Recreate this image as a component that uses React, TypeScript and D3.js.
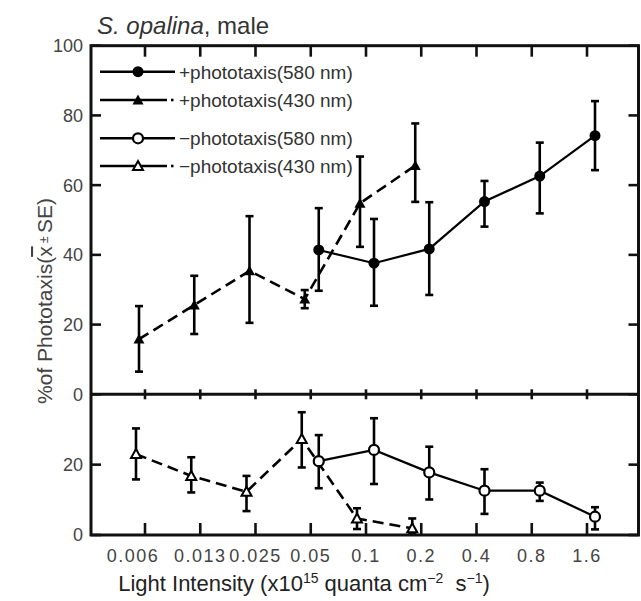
import React from "react";
import * as d3 from "d3";

const categories = ["0.006", "0.013", "0.025", "0.05", "0.1", "0.2", "0.4", "0.8", "1.6"];
const topTicks = [0, 20, 40, 60, 80, 100];
const bottomTicks = [0, 20];

// + phototaxis 580 nm (filled circles, solid)
const pos580Cats = ["0.05", "0.1", "0.2", "0.4", "0.8", "1.6"];
const pos580Mean = [41.4, 37.6, 41.7, 55.3, 62.6, 74.2];
const pos580Upper = [53.4, 50.3, 55.1, 61.2, 72.2, 84.1];
const pos580Lower = [29.7, 25.4, 28.5, 48.1, 51.9, 64.3];

// + phototaxis 430 nm (filled triangles, dashed)
const pos430Cats = ["0.006", "0.013", "0.025", "0.05", "0.1", "0.2"];
const pos430Mean = [15.8, 25.6, 35.4, 27.3, 54.8, 65.6];
const pos430Upper = [25.3, 34.0, 51.1, 29.9, 68.2, 77.7];
const pos430Lower = [6.5, 17.3, 20.5, 24.7, 42.3, 55.2];

// - phototaxis 580 nm (open circles, solid)
const neg580Cats = ["0.05", "0.1", "0.2", "0.4", "0.8", "1.6"];
const neg580Mean = [21.0, 24.2, 17.8, 12.6, 12.6, 5.2];
const neg580Upper = [28.4, 33.2, 25.1, 18.7, 14.9, 7.9];
const neg580Lower = [13.3, 14.5, 10.1, 6.0, 9.7, 1.6];

// - phototaxis 430 nm (open triangles, dashed)
const neg430Cats = ["0.006", "0.013", "0.025", "0.05", "0.1", "0.2"];
const neg430Mean = [23.0, 16.8, 12.3, 27.3, 4.7, 1.9];
const neg430Upper = [30.3, 22.1, 16.8, 34.9, 7.6, 4.7];
const neg430Lower = [15.8, 12.1, 6.8, 19.2, 1.7, 0.5];

const legendLabels = [
  "+phototaxis(580 nm)",
  "+phototaxis(430 nm)",
  "\u2212phototaxis(580 nm)",
  "\u2212phototaxis(430 nm)",
];

const FONT = "'Liberation Sans', Arial, Helvetica, sans-serif";
const W = 641;
const H = 601;
const left = 91;
const right = 638.5;
const top = 45.7;
const mid = 394.3;
const bottom = 535;

type Series = {
  cats: string[];
  mean: number[];
  upper: number[];
  lower: number[];
  marker: "circle" | "triangle";
  filled: boolean;
  dashed: boolean;
  dx: number;
};

function Marker({ x, y, kind, filled }: { x: number; y: number; kind: string; filled: boolean }) {
  if (kind === "circle") {
    return filled ? (
      <circle cx={x} cy={y} r={5.5} fill="#000" />
    ) : (
      <circle cx={x} cy={y} r={5} fill="#fff" stroke="#000" strokeWidth={2.2} />
    );
  }
  const s = filled ? 5.5 : 5;
  const path = `M${x},${y - s} L${x + s},${y + s * 0.8} L${x - s},${y + s * 0.8} Z`;
  return filled ? (
    <path d={path} fill="#000" />
  ) : (
    <path d={path} fill="#fff" stroke="#000" strokeWidth={2} strokeLinejoin="miter" />
  );
}

function SeriesG({ s, x, y }: { s: Series; x: d3.ScalePoint<string>; y: d3.ScaleLinear<number, number> }) {
  const pts = s.cats.map((c, i) => ({
    px: (x(c) as number) + s.dx,
    py: y(s.mean[i]),
    hi: y(s.upper[i]),
    lo: y(s.lower[i]),
  }));
  const line = d3
    .line<{ px: number; py: number }>()
    .x((d) => d.px)
    .y((d) => d.py);
  return (
    <g>
      <path
        d={line(pts) || ""}
        fill="none"
        stroke="#000"
        strokeWidth={s.dashed ? 2.6 : 2.2}
        strokeDasharray={s.dashed ? "11,6" : undefined}
      />
      {pts.map((p, i) => (
        <g key={i} stroke="#000" strokeWidth={2.6}>
          <line x1={p.px} x2={p.px} y1={p.hi} y2={p.lo} />
          <line x1={p.px - 4} x2={p.px + 4} y1={p.hi} y2={p.hi} />
          <line x1={p.px - 4} x2={p.px + 4} y1={p.lo} y2={p.lo} />
        </g>
      ))}
      {pts.map((p, i) => (
        <Marker key={i} x={p.px} y={p.py} kind={s.marker} filled={s.filled} />
      ))}
    </g>
  );
}

export default function App() {
  const x = d3.scalePoint<string>().domain(categories).range([145, 587]).padding(0);
  const yTop = d3.scaleLinear().domain([0, 100]).range([mid, top]);
  const yBot = d3.scaleLinear().domain([0, 40]).range([bottom, mid]);

  const topSeries: Series[] = [
    { cats: pos430Cats, mean: pos430Mean, upper: pos430Upper, lower: pos430Lower, marker: "triangle", filled: true, dashed: true, dx: -6 },
    { cats: pos580Cats, mean: pos580Mean, upper: pos580Upper, lower: pos580Lower, marker: "circle", filled: true, dashed: false, dx: 8 },
  ];
  const botSeries: Series[] = [
    { cats: neg430Cats, mean: neg430Mean, upper: neg430Upper, lower: neg430Lower, marker: "triangle", filled: false, dashed: true, dx: -9 },
    { cats: neg580Cats, mean: neg580Mean, upper: neg580Upper, lower: neg580Lower, marker: "circle", filled: false, dashed: false, dx: 8 },
  ];

  const legendRows = [71.7, 100, 138.3, 166];
  const legendKinds = [
    { marker: "circle", filled: true, dashed: false },
    { marker: "triangle", filled: true, dashed: true },
    { marker: "circle", filled: false, dashed: false },
    { marker: "triangle", filled: false, dashed: true },
  ];

  const tickColor = "#444";

  return (
    <svg
      width={W}
      height={H}
      viewBox={`0 0 ${W} ${H}`}
      style={{ position: "absolute", left: 0, top: 0, background: "#fff", fontFamily: FONT }}
    >
      <rect x={0} y={0} width={W} height={H} fill="#fff" />

      {/* title */}
      <text x={97} y={34} fontSize={24} fill="#333">
        <tspan fontStyle="italic">S. opalina</tspan>
        <tspan>, male</tspan>
      </text>

      {/* series */}
      {topSeries.map((s, i) => (
        <SeriesG key={"t" + i} s={s} x={x} y={yTop} />
      ))}
      {botSeries.map((s, i) => (
        <SeriesG key={"b" + i} s={s} x={x} y={yBot} />
      ))}

      {/* frame */}
      <g stroke="#111" strokeWidth={3} fill="none">
        <rect x={left} y={top} width={right - left} height={bottom - top} />
        <line x1={left} x2={right} y1={mid} y2={mid} />
      </g>

      {/* ticks */}
      <g stroke="#111" strokeWidth={2.6}>
        {categories.map((c) => (
          <g key={c}>
            <line x1={x(c)} x2={x(c)} y1={top} y2={top + 11} />
            <line x1={x(c)} x2={x(c)} y1={mid - 5} y2={mid + 5} />
            <line x1={x(c)} x2={x(c)} y1={bottom} y2={bottom - 12} />
          </g>
        ))}
        {topTicks.map((t) => (
          <g key={"yt" + t}>
            <line x1={left} x2={left + 10} y1={yTop(t)} y2={yTop(t)} />
            <line x1={right} x2={right - 10} y1={yTop(t)} y2={yTop(t)} />
          </g>
        ))}
        {bottomTicks.map((t) => (
          <g key={"yb" + t}>
            <line x1={left} x2={left + 10} y1={yBot(t)} y2={yBot(t)} />
            <line x1={right} x2={right - 10} y1={yBot(t)} y2={yBot(t)} />
          </g>
        ))}
      </g>

      {/* y tick labels */}
      <g fontSize={18} fill={tickColor} textAnchor="end">
        {topTicks.map((t) => (
          <text key={"lt" + t} x={83} y={yTop(t)} dy="0.36em">
            {t}
          </text>
        ))}
        {bottomTicks.map((t) => (
          <text key={"lb" + t} x={83} y={yBot(t)} dy="0.36em">
            {t}
          </text>
        ))}
      </g>

      {/* x tick labels */}
      <g fontSize={18} fill={tickColor} textAnchor="middle" letterSpacing={1.5}>
        {categories.map((c, i) => (
          <text key={"xl" + c} x={(x(c) as number) + (i === 0 ? -12 : 0)} y={562}>
            {c}
          </text>
        ))}
      </g>

      {/* x axis title */}
      <text x={304} y={591} fontSize={22} fill="#222" textAnchor="middle">
        <tspan>Light Intensity (x10</tspan>
        <tspan fontSize={14} dy={-8}>15</tspan>
        <tspan dy={8}>{"\u00a0quanta cm"}</tspan>
        <tspan fontSize={14} dy={-8}>{"\u22122"}</tspan>
        <tspan dy={8}>{"\u00a0\u00a0s"}</tspan>
        <tspan fontSize={14} dy={-8}>{"\u22121"}</tspan>
        <tspan dy={8}>)</tspan>
      </text>

      {/* y axis title */}
      <text
        transform="translate(52,301) rotate(-90)"
        fontSize={21}
        fill="#444"
        textAnchor="middle"
      >
        <tspan>%of Phototaxis(</tspan>
        <tspan textDecoration="overline">x</tspan>
        <tspan fontSize={12} dy={-4}>{"\u00a0\u00b1\u00a0"}</tspan>
        <tspan dy={4}>SE)</tspan>
      </text>

      {/* legend */}
      {legendRows.map((ly, i) => {
        const k = legendKinds[i];
        return (
          <g key={"lg" + i}>
            {k.dashed ? (
              <g stroke="#000" strokeWidth={2.6}>
                <line x1={100} x2={167} y1={ly} y2={ly} />
                <line x1={171} x2={173.5} y1={ly} y2={ly} />
              </g>
            ) : (
              <line x1={100} x2={175} y1={ly} y2={ly} stroke="#000" strokeWidth={2.6} />
            )}
            <Marker x={138} y={ly} kind={k.marker} filled={k.filled} />
            <text x={179} y={ly + 7} fontSize={19} fill="#333">
              {legendLabels[i]}
            </text>
          </g>
        );
      })}
    </svg>
  );
}
